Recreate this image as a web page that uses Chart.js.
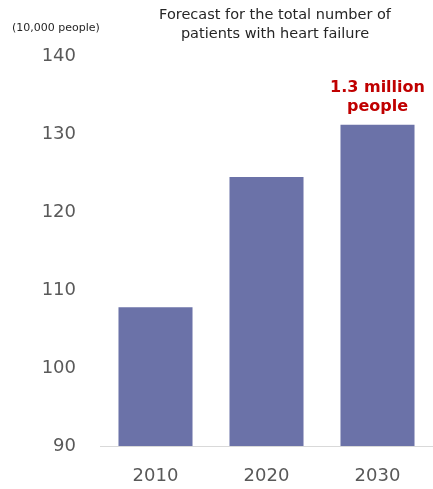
<!DOCTYPE html>
<html>
<head>
<meta charset="utf-8">
<script src="https://cdn.jsdelivr.net/npm/chart.js@4/dist/chart.umd.min.js"></script>
<style>
  html, body { margin: 0; padding: 0; background: #ffffff; }
  #wrap { width: 433px; height: 489px; position: relative; }
</style>
</head>
<body>
<div id="wrap"><canvas id="chart"></canvas></div>
<script>
// Heart failure patients, in units of 10,000 people
const years = ['2010', '2020', '2030'];
const patients = [107.8, 124.5, 131.2];
const yTicks = [90, 100, 110, 120, 130, 140];
const titleLines = ['Forecast for the total number of', 'patients with heart failure'];
const unitLabel = '(10,000 people)';

const FONT = '"DejaVu Sans", Verdana, sans-serif';

// Title, unit caption and the callout over the last bar
const annotations = {
  id: 'annotations',
  afterDraw(chart) {
    const ctx = chart.ctx;
    ctx.save();
    ctx.textAlign = 'center';
    ctx.textBaseline = 'middle';
    ctx.fillStyle = '#262626';
    ctx.font = '14.5px ' + FONT;
    ctx.fillText(titleLines[0], 275, 15);
    ctx.fillText(titleLines[1], 275, 34);

    ctx.font = '11px ' + FONT;
    ctx.textAlign = 'left';
    ctx.fillText(unitLabel, 12, 28);

    const last = patients.length - 1;
    const bar = chart.getDatasetMeta(0).data[last];
    const millions = (patients[last] / 100).toFixed(1);
    ctx.textAlign = 'center';
    ctx.fillStyle = '#c00000';
    ctx.font = 'bold 16px ' + FONT;
    ctx.fillText(millions + ' million', bar.x, bar.y - 37);
    ctx.fillText('people', bar.x, bar.y - 18);
    ctx.restore();
  }
};

new Chart(document.getElementById('chart'), {
  type: 'bar',
  data: {
    labels: years,
    datasets: [{
      data: patients,
      backgroundColor: '#6b72a8',
      borderWidth: 0,
      categoryPercentage: 1.0,
      barPercentage: 0.667
    }]
  },
  options: {
    responsive: true,
    maintainAspectRatio: false,
    animation: false,
    layout: { padding: { top: 56, right: 0, left: 0, bottom: 0 } },
    plugins: {
      legend: { display: false },
      title: { display: false },
      tooltip: { enabled: false }
    },
    scales: {
      x: {
        grid: { display: false, drawTicks: false },
        border: { display: true, color: '#d9d9d9', width: 1 },
        ticks: {
          color: '#595959',
          font: { family: FONT, size: 18 },
          padding: 20
        },
        afterFit(scale) { scale.height = 43; }
      },
      y: {
        min: yTicks[0],
        max: yTicks[yTicks.length - 1],
        grid: { display: false, drawTicks: false },
        border: { display: false },
        afterBuildTicks(scale) {
          scale.ticks = yTicks.map(v => ({ value: v }));
        },
        ticks: {
          color: '#595959',
          font: { family: FONT, size: 18 },
          padding: 24
        },
        afterFit(scale) { scale.width = 100; }
      }
    }
  },
  plugins: [annotations]
});
</script>
</body>
</html>
